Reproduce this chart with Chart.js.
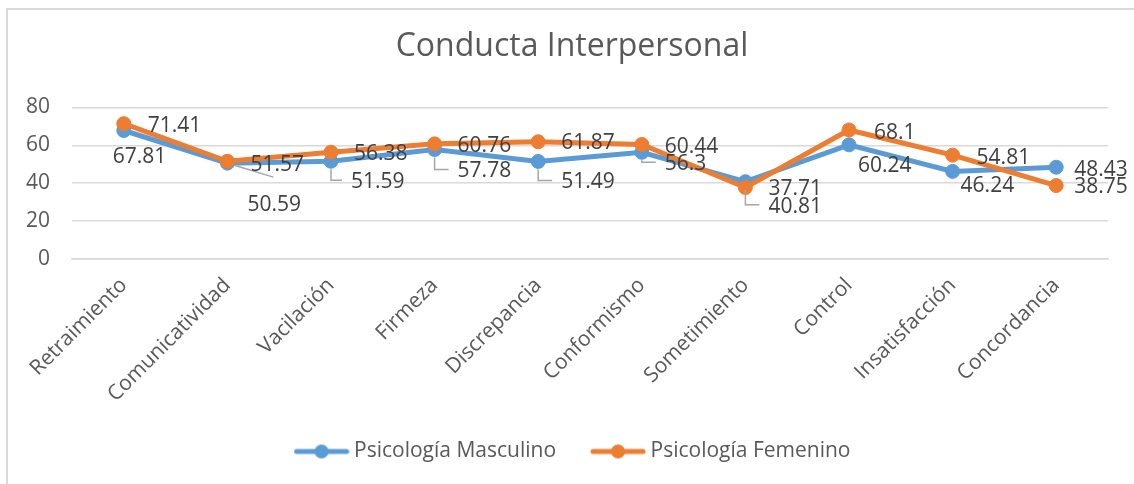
<!DOCTYPE html>
<html>
<head>
<meta charset="utf-8">
<script src="https://cdn.jsdelivr.net/npm/chart.js@4"></script>
<style>
  html, body { margin: 0; padding: 0; background: #fff; overflow: hidden; }
  #frame { position: absolute; left: 6px; top: 8px; width: 1140px; height: 500px; border: 2px solid #d9d9d9; }
  #chart { position: absolute; left: 0; top: 0; }
</style>
</head>
<body>
<div id="frame"></div>
<canvas id="chart" width="1134" height="484"></canvas>
<script>
const categories = ['Retraimiento', 'Comunicatividad', 'Vacilación', 'Firmeza', 'Discrepancia',
    'Conformismo', 'Sometimiento', 'Control', 'Insatisfacción', 'Concordancia'];
const masculino = [67.81, 50.59, 51.59, 57.78, 51.49, 56.3, 40.81, 60.24, 46.24, 48.43];
const femenino = [71.41, 51.57, 56.38, 60.76, 61.87, 60.44, 37.71, 68.1, 54.81, 38.75];
const yMin = 0;
const yMax = 80;
const yStep = 20;

// label nudges (px from the point), as placed in the original
const masculinoShift = [[-11, 27], [20, 42], [20, 21], [23, 22], [23, 21], [23, 12], [23, 25], [9, 21], [8, 15], [18, 3]];
const masculinoLeader = [null, 'diag', 'elbow', 'elbow', 'elbow', 'elbow', 'elbow', null, null, null];
const femeninoShift = [[24, 2], [23, 4], [23, 2], [23, 2], [23, 1], [23, 3], [23, 1], [25, 3], [24, 3], [18, 1]];

const BLUE = '#5b9bd5';
const ORANGE = '#ed7d31';
const TEXT = '#595959';

Chart.defaults.font.family = "'Open Sans', sans-serif";
Chart.defaults.color = TEXT;

function legendIcon(color) {
    const c = document.createElement('canvas');
    c.width = 56;
    c.height = 16;
    const g = c.getContext('2d');
    g.strokeStyle = color;
    g.lineWidth = 5;
    g.lineCap = 'round';
    g.beginPath();
    g.moveTo(3, 8);
    g.lineTo(53, 8);
    g.stroke();
    g.fillStyle = color;
    g.beginPath();
    g.arc(28, 8, 7, 0, Math.PI * 2);
    g.fill();
    return c;
}

const valueLabels = {
    id: 'valueLabels',
    afterDatasetsDraw(chart) {
        const ctx = chart.ctx;
        ctx.save();
        ctx.font = "21px 'Open Sans', sans-serif";
        ctx.textBaseline = 'middle';
        ctx.textAlign = 'left';
        chart.data.datasets.forEach((ds, di) => {
            const meta = chart.getDatasetMeta(di);
            const shift = ds.labelShift;
            const leader = ds.labelLeader || [];
            meta.data.forEach((pt, i) => {
                const lx = pt.x + shift[i][0];
                const ly = pt.y + shift[i][1];
                if (leader[i]) {
                    ctx.strokeStyle = '#a6a6a6';
                    ctx.lineWidth = 1.5;
                    ctx.beginPath();
                    if (leader[i] === 'diag') {
                        const ex = lx + 26, ey = ly - 28;
                        const d = Math.hypot(ex - pt.x, ey - pt.y);
                        ctx.moveTo(pt.x + (ex - pt.x) * 8 / d, pt.y + (ey - pt.y) * 8 / d);
                        ctx.lineTo(ex, ey);
                    } else {
                        ctx.moveTo(pt.x, pt.y + 8);
                        ctx.lineTo(pt.x, ly - 2);
                        ctx.lineTo(lx - 9, ly - 2);
                    }
                    ctx.stroke();
                }
                ctx.fillStyle = '#404040';
                ctx.fillText(String(ds.data[i]), lx, ly);
            });
        });
        ctx.restore();
    }
};

// nudge the title and legend blocks to the right, where the original has them
const blockNudge = {
    id: 'blockNudge',
    afterLayout(chart) {
        if (chart.legend) {
            chart.legend.left += 42;
        }
        if (chart.titleBlock) {
            chart.titleBlock.left += 36;
        }
    }
};

new Chart(document.getElementById('chart'), {
    type: 'line',
    data: {
        labels: categories,
        datasets: [{
            label: 'Psicología Masculino',
            data: masculino,
            borderColor: BLUE,
            backgroundColor: BLUE,
            borderWidth: 5,
            pointRadius: 7,
            pointBorderWidth: 1,
            pointBackgroundColor: BLUE,
            order: 1,
            labelShift: masculinoShift,
            labelLeader: masculinoLeader
        }, {
            label: 'Psicología Femenino',
            data: femenino,
            borderColor: ORANGE,
            backgroundColor: ORANGE,
            borderWidth: 5,
            pointRadius: 7,
            pointBorderWidth: 1,
            pointBackgroundColor: ORANGE,
            order: 0,
            labelShift: femeninoShift
        }]
    },
    options: {
        responsive: false,
        animation: false,
        layout: {
            padding: { top: 0, left: 0, right: 26, bottom: 12 }
        },
        plugins: {
            title: {
                display: true,
                text: 'Conducta Interpersonal',
                color: TEXT,
                font: { size: 32, weight: 'normal' },
                padding: { top: 28, bottom: 41 }
            },
            legend: {
                position: 'bottom',
                labels: {
                    color: TEXT,
                    font: { size: 21 },
                    usePointStyle: true,
                    pointStyleWidth: 44,
                    padding: 40,
                    generateLabels(chart) {
                        return chart.data.datasets.map((ds, i) => ({
                            text: ds.label,
                            pointStyle: legendIcon(ds.borderColor),
                            fillStyle: ds.borderColor,
                            strokeStyle: ds.borderColor,
                            fontColor: TEXT,
                            lineWidth: 0,
                            hidden: false,
                            datasetIndex: i
                        }));
                    }
                }
            },
            tooltip: { enabled: false }
        },
        scales: {
            x: {
                offset: true,
                grid: { display: false },
                border: { display: true, color: '#d9d9d9', width: 1.5 },
                ticks: {
                    autoSkip: false,
                    minRotation: 45,
                    maxRotation: 45,
                    padding: 6,
                    color: TEXT,
                    font: { size: 21 }
                },
                afterFit(scale) {
                    scale.height = 142;
                }
            },
            y: {
                min: yMin,
                max: yMax,
                grid: { color: '#d9d9d9', lineWidth: 1.5, drawTicks: false },
                border: { display: false },
                ticks: {
                    stepSize: yStep,
                    padding: 22,
                    color: TEXT,
                    font: { size: 21 }
                },
                afterFit(scale) {
                    scale.width = 72;
                }
            }
        }
    },
    plugins: [valueLabels, blockNudge]
});
</script>
</body>
</html>
